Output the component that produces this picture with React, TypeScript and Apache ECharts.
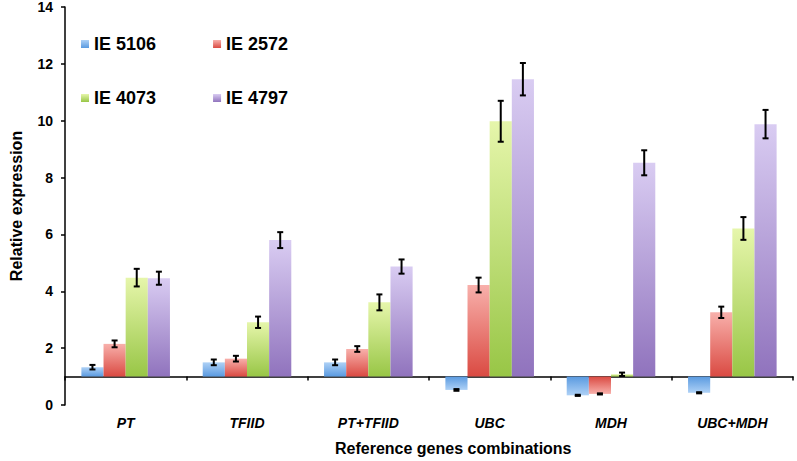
import React, { useEffect, useRef } from "react";
import * as echarts from "echarts";

const categories = ["PT", "TFIID", "PT+TFIID", "UBC", "MDH", "UBC+MDH"];
const seriesNames = ["IE 5106", "IE 2572", "IE 4073", "IE 4797"];
const ie5106 = [1.33, 1.5, 1.5, 0.53, 0.34, 0.43];
const ie5106Err = [0.08, 0.1, 0.1, 0.03, 0.02, 0.02];
const ie2572 = [2.15, 1.63, 1.97, 4.22, 0.39, 3.26];
const ie2572Err = [0.12, 0.1, 0.1, 0.26, 0.02, 0.2];
const ie4073 = [4.48, 2.91, 3.61, 9.98, 1.08, 6.21];
const ie4073Err = [0.31, 0.2, 0.28, 0.72, 0.06, 0.4];
const ie4797 = [4.46, 5.8, 4.87, 11.46, 8.52, 9.88];
const ie4797Err = [0.23, 0.28, 0.25, 0.57, 0.44, 0.5];
const yTicks = [0, 2, 4, 6, 8, 10, 12, 14];
const BASE = 1;

const values = [ie5106, ie2572, ie4073, ie4797];
const errors = [ie5106Err, ie2572Err, ie4073Err, ie4797Err];
const lightColors = ["#aed1f6", "#f8b0ab", "#e6f6ab", "#d9ccf2"];
const darkColors = ["#5a9ae0", "#da4a42", "#98c646", "#9073bd"];
const BAR_CAT_GAP = 0.27;

function grad(i: number, up: boolean) {
  return new echarts.graphic.LinearGradient(0, 0, 0, 1, [
    { offset: 0, color: up ? lightColors[i] : darkColors[i] },
    { offset: 1, color: up ? darkColors[i] : lightColors[i] },
  ]);
}

export default function App() {
  const ref = useRef<HTMLDivElement>(null);
  useEffect(() => {
    if (!ref.current) return;
    const chart = echarts.init(ref.current, undefined, { renderer: "svg" });
    const barSeries = seriesNames.map((name, i) => ({
      name,
      type: "bar",
      yAxisIndex: 1,
      barGap: "0%",
      barCategoryGap: BAR_CAT_GAP * 100 + "%",
      itemStyle: { color: grad(i, true) },
      data: values[i].map((v) => ({
        value: v - BASE,
        itemStyle: { color: grad(i, v >= BASE) },
      })),
    }));
    const errData: number[][] = [];
    values.forEach((arr, s) =>
      arr.forEach((v, c) => errData.push([c, v - BASE, errors[s][c], s]))
    );
    const legendText = { fontSize: 18, fontWeight: "bold", color: "#000", fontFamily: "Liberation Sans" };
    const option: any = {
      animation: false,
      textStyle: { fontFamily: "Liberation Sans" },
      grid: { left: 52, right: 4, top: 7, bottom: 56, containLabel: false },
      legend: [
        {
          data: seriesNames.slice(0, 2),
          left: 76,
          top: 30,
          icon: "rect",
          itemWidth: 8,
          itemHeight: 8,
          itemGap: 57,
          textStyle: legendText,
        },
        {
          data: seriesNames.slice(2, 4),
          left: 76,
          top: 84,
          icon: "rect",
          itemWidth: 8,
          itemHeight: 8,
          itemGap: 57,
          textStyle: legendText,
        },
      ],
      xAxis: {
        type: "category",
        data: categories,
        axisLine: { onZero: true, onZeroAxisIndex: 1, lineStyle: { color: "#000", width: 1.5 } },
        axisTick: { show: true, length: 4, lineStyle: { color: "#000", width: 1.5 } },
        axisLabel: {
          margin: 11,
          fontSize: 14,
          fontWeight: "bold",
          fontStyle: "italic",
          color: "#000",
          fontFamily: "Liberation Sans",
        },
      },
      yAxis: [
        {
          type: "value",
          min: yTicks[0],
          max: yTicks[yTicks.length - 1],
          interval: yTicks[1] - yTicks[0],
          name: "Relative expression",
          nameLocation: "middle",
          nameGap: 41,
          nameTextStyle: { fontSize: 16, fontWeight: "bold", color: "#000", fontFamily: "Liberation Sans" },
          axisLine: { show: true, lineStyle: { color: "#000", width: 1.5 } },
          axisTick: { show: true, length: 4, lineStyle: { color: "#000", width: 1.5 } },
          axisLabel: { margin: 12, fontSize: 14, fontWeight: "bold", color: "#000", fontFamily: "Liberation Sans" },
          splitLine: { show: false },
        },
        {
          type: "value",
          min: yTicks[0] - BASE,
          max: yTicks[yTicks.length - 1] - BASE,
          show: false,
          splitLine: { show: false },
        },
      ],
      graphic: [
        {
          type: "text",
          left: 460 - 125,
          top: 440,
          style: {
            text: "Reference genes combinations",
            fontSize: 16,
            fontWeight: "bold",
            fill: "#000",
            fontFamily: "Liberation Sans",
          },
        },
      ],
      series: [
        ...barSeries,
        {
          type: "custom",
          yAxisIndex: 1,
          z: 10,
          data: errData,
          renderItem: (params: any, api: any) => {
            const c = api.value(0);
            const v = api.value(1);
            const e = api.value(2);
            const s = api.value(3);
            const band = api.size([1, 0])[0];
            const bw = (band * (1 - BAR_CAT_GAP)) / seriesNames.length;
            const cx = api.coord([c, v])[0] + (s - (seriesNames.length - 1) / 2) * bw;
            const yT = api.coord([c, v + e])[1];
            const yB = api.coord([c, v - e])[1];
            const cap = 3;
            const st = { stroke: "#000", lineWidth: 2 };
            return {
              type: "group",
              children: [
                { type: "line", shape: { x1: cx, y1: yT, x2: cx, y2: yB }, style: st },
                { type: "line", shape: { x1: cx - cap, y1: yT, x2: cx + cap, y2: yT }, style: st },
                { type: "line", shape: { x1: cx - cap, y1: yB, x2: cx + cap, y2: yB }, style: st },
              ],
            };
          },
        },
      ],
    };
    chart.setOption(option);
    return () => chart.dispose();
  }, []);
  return <div ref={ref} style={{ width: 797, height: 461, position: "absolute", left: 0, top: 0 }} />;
}
